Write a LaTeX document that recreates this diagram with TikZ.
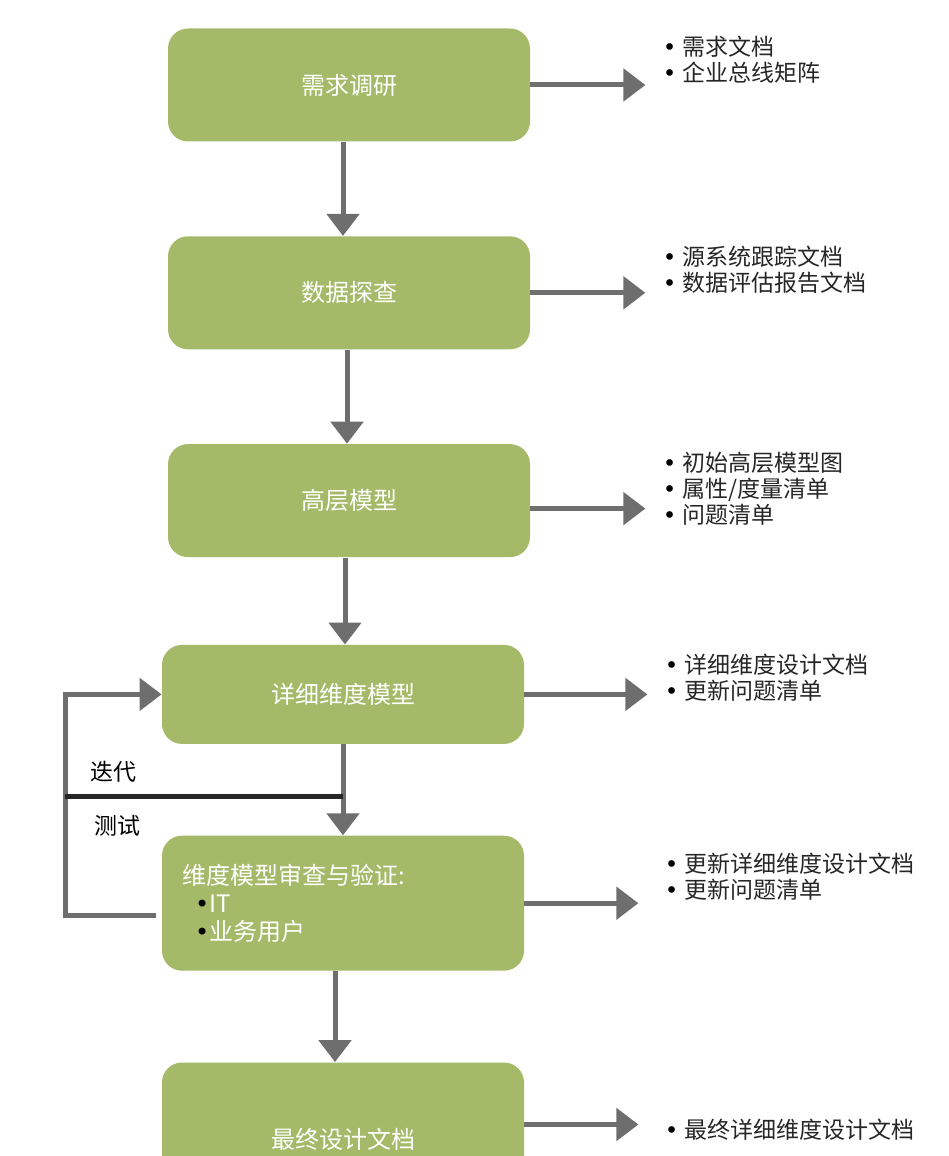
\documentclass[tikz,border=0pt]{standalone}
\usepackage{fontspec}
\setmainfont{Noto Sans CJK SC}
\newfontfamily\bulletfont{DejaVu Sans}
\usetikzlibrary{arrows.meta,positioning}
\definecolor{boxgreen}{HTML}{A4BA68}
\definecolor{flowgray}{HTML}{6E6E6E}
\newcommand{\dotmark}{{\bulletfont\color{black}•}}

\begin{document}
\begin{tikzpicture}
  [
    x=0.5pt, y=-0.5pt,
    >={Triangle[length=11pt,width=16pt]},
    stage box/.style={rounded corners=10pt, fill=boxgreen, text=white, minimum width=181pt, minimum height=56.5pt, font=\fontsize{12}{14}\selectfont},
    out list/.style={inner sep=0pt, align=left, text=black!85, font=\fontsize{11.5}{13}\selectfont},
    flow/.style={->, draw=flowgray, line width=2.5pt}
    ]
  \useasboundingbox (0,0) rectangle (948,1156);

  \node[stage box] (b1) at (349,85) {需求调研};
  \node[stage box] (b2) [below=47pt of b1] {数据探查};
  \node[stage box] (b3) [below=47pt of b2] {高层模型};
  \node[stage box, minimum height=49.5pt] (b4) [below=43.5pt of b3, xshift=-3pt] {详细维度模型};
  \node[stage box, minimum height=67.5pt, text width=161pt, inner xsep=10pt, align=left] (b5) [below=45.5pt of b4]
    {维度模型审查与验证:\\ \hspace*{6.5pt}\dotmark IT\\ \hspace*{6.5pt}\dotmark 业务用户};
  \node[stage box, minimum height=77pt] (b6) [below=45.5pt of b5] {最终设计文档};

  % outputs of each stage
  \node[out list] (l1) [right=66pt of b1.east, yshift=12.5pt] {\dotmark\hspace{3pt}需求文档\\ \dotmark\hspace{3pt}企业总线矩阵};
  \node[out list] (l2) [right=66pt of b2.east, yshift=11.5pt] {\dotmark\hspace{3pt}源系统跟踪文档\\ \dotmark\hspace{3pt}数据评估报告文档};
  \node[out list] (l3) [right=66pt of b3.east, yshift=6pt] {\dotmark\hspace{3pt}初始高层模型图\\ \dotmark\hspace{3pt}属性/度量清单\\ \dotmark\hspace{3pt}问题清单};
  \node[out list] (l4) [right=70pt of b4.east, yshift=8.5pt] {\dotmark\hspace{3pt}详细维度设计文档\\ \dotmark\hspace{3pt}更新问题清单};
  \node[out list] (l5) [right=70pt of b5.east, yshift=13.5pt] {\dotmark\hspace{3pt}更新详细维度设计文档\\ \dotmark\hspace{3pt}更新问题清单};
  \node[out list] (l6) [right=70pt of b6.east, yshift=5pt] {\dotmark\hspace{3pt}最终详细维度设计文档};

  \draw[flow] ([xshift=-3pt]b1.south) -- ([xshift=-3pt]b2.north);
  \draw[flow] ([xshift=-1pt]b2.south) -- ([xshift=-1pt]b3.north);
  \draw[flow] ([xshift=-2pt]b3.south) -- ([xshift=1pt]b4.north);
  \draw[flow] (b4.south) -- (b5.north);
  \draw[flow] ([xshift=-4pt]b5.south) -- ([xshift=-4pt]b6.north);

  \coordinate (a3) at ([yshift=-4pt]b3.east);
  \coordinate (a6) at ([yshift=7.5pt]b6.east);
  \draw[flow, shorten >=8.5pt] (b1.east) -- (b1.east -| l1.west);
  \draw[flow, shorten >=8.5pt] (b2.east) -- (b2.east -| l2.west);
  \draw[flow, shorten >=8.5pt] (a3) -- (a3 -| l3.west);
  \draw[flow, shorten >=8.5pt] (b4.east) -- (b4.east -| l4.west);
  \draw[flow, shorten >=13pt] (b5.east) -- (b5.east -| l5.west);
  \draw[flow, shorten >=13pt] (a6) -- (a6 -| l6.west);

  % iteration loop
  \coordinate (loop) at (65,796);
  \coordinate (back) at ([xshift=-3pt,yshift=-6pt]b5.west);
  \draw[flow] (back) -| (loop) |- (b4.west);
  \draw[line width=2.5pt, black!85] (loop) -- (loop -| b4.south);
  \node[font=\fontsize{11.5}{13}\selectfont] (iter) at (113,772) {迭代};
  \node[font=\fontsize{11.5}{13}\selectfont] (test) at (117,826) {测试};

\end{tikzpicture}
\end{document}
